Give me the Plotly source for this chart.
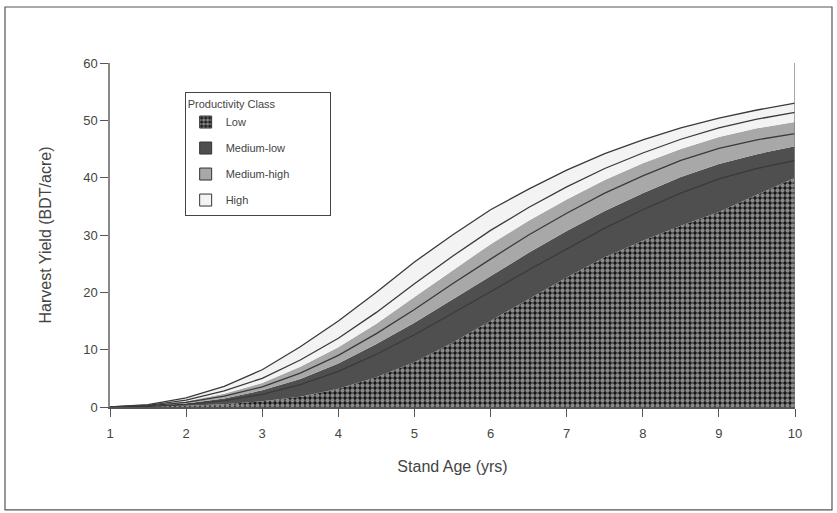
import plotly.graph_objects as go

# Stand age (yrs)
age = [1, 1.5, 2, 2.5, 3, 3.5, 4, 4.5, 5, 5.5, 6, 6.5, 7, 7.5, 8, 8.5, 9, 9.5, 10]

# Band boundaries (BDT/acre)
low_top = [0, 0.05, 0.2, 0.5, 1.0, 1.8, 3.2, 5.2, 7.8, 11.2, 15.0, 18.8, 22.6, 26.1, 29.0, 31.6, 34.0, 37.0, 40.0]
medlow_line = [0, 0.1, 0.45, 1.1, 2.2, 3.9, 6.2, 9.2, 12.6, 16.3, 20.1, 23.9, 27.6, 31.2, 34.4, 37.3, 39.8, 41.6, 43.0]
medlow_top = [0, 0.15, 0.6, 1.5, 2.9, 4.9, 7.6, 11.0, 14.7, 18.8, 22.9, 26.9, 30.7, 34.2, 37.3, 40.1, 42.4, 44.1, 45.5]
medhigh_line = [0, 0.2, 0.8, 1.9, 3.5, 5.9, 9.0, 12.8, 17.0, 21.5, 25.8, 30.0, 33.8, 37.3, 40.3, 43.0, 45.1, 46.6, 47.7]
medhigh_top = [0, 0.25, 1.0, 2.3, 4.2, 7.0, 10.4, 14.5, 19.2, 23.8, 28.4, 32.5, 36.2, 39.6, 42.5, 45.0, 47.1, 48.6, 49.7]
high_line = [0, 0.3, 1.2, 2.8, 5.0, 8.2, 12.0, 16.5, 21.5, 26.3, 30.8, 34.8, 38.4, 41.6, 44.3, 46.7, 48.7, 50.2, 51.4]
high_top = [0, 0.4, 1.6, 3.6, 6.5, 10.5, 15.0, 20.0, 25.3, 30.0, 34.4, 38.0, 41.3, 44.2, 46.6, 48.7, 50.4, 51.8, 53.0]

class_names = ["Low", "Medium-low", "Medium-high", "High"]
class_colors = ["black", "#4f4f4f", "#a8a8a8", "#f3f3f3"]
line_col = "#3a3a3a"
low_pattern = dict(shape=".", bgcolor="#111", fgcolor="white", size=5, solidity=0.6)

fig = go.Figure()

bounds = [low_top, medlow_top, medhigh_top, high_top]
for i, b in enumerate(bounds):
    kw = dict(fillpattern=low_pattern) if i == 0 else {}
    fig.add_trace(go.Scatter(
        x=age, y=b, mode="lines", showlegend=False, hoverinfo="skip",
        line=dict(width=0, color=class_colors[i]),
        fill="tozeroy" if i == 0 else "tonexty", fillcolor=class_colors[i], **kw))

for series in (medlow_line, medhigh_line, high_line, high_top):
    fig.add_trace(go.Scatter(x=age, y=series, mode="lines", showlegend=False,
                             line=dict(color=line_col, width=1.3), hoverinfo="skip"))

# legend-only swatches
for i, name in enumerate(class_names):
    marker = dict(color=class_colors[i], line=dict(color="#333", width=1))
    if i == 0:
        marker["pattern"] = low_pattern
    fig.add_trace(go.Bar(x=[None], y=[None], name=name, marker=marker,
                         legendgroup=f"g{i}", showlegend=True))

# right-hand frame line and outer border
fig.add_shape(type="line", xref="x", yref="paper", x0=10, x1=10, y0=0, y1=1,
              line=dict(color="#888", width=1.5))
fig.add_shape(type="rect", xref="paper", yref="paper", x0=-0.1533, x1=1.054, y0=-0.299, y1=1.1628,
              line=dict(color="#555", width=1.2))

nb = "\u00a0"
fig.update_layout(
    width=837, height=513,
    margin=dict(l=110, r=42, t=63, b=106, autoexpand=False),
    paper_bgcolor="white", plot_bgcolor="white",
    font=dict(family="Liberation Sans, Arial, sans-serif", size=13, color="#444"),
    showlegend=True,
    legend=dict(
        x=0.109, y=0.915, xanchor="left", yanchor="top",
        title=dict(text="Productivity Class" + nb * 17, font=dict(size=11)),
        font=dict(size=11), bordercolor="#444", borderwidth=1, bgcolor="white",
        traceorder="grouped", tracegroupgap=7, itemwidth=30),
    xaxis=dict(range=[1, 10], tickvals=list(range(1, 11)), ticks="outside", ticklen=8,
               tickcolor="#555", showline=True, linecolor="#555", linewidth=1.5,
               showgrid=False, zeroline=False, ticklabelstandoff=6,
               title=dict(text="Stand Age (yrs)", standoff=20)),
    yaxis=dict(range=[0, 60], tickvals=[0, 10, 20, 30, 40, 50, 60], ticks="outside", ticklen=8,
               tickcolor="#555", showline=True, linecolor="#888", linewidth=1.5,
               showgrid=False, zeroline=False,
               title=dict(text="Harvest Yield (BDT/acre)", standoff=28)),
)

fig.write_html("out.html", config={"displayModeBar": False},
               post_script="document.body.style.margin='0';document.body.style.overflow='hidden';")
